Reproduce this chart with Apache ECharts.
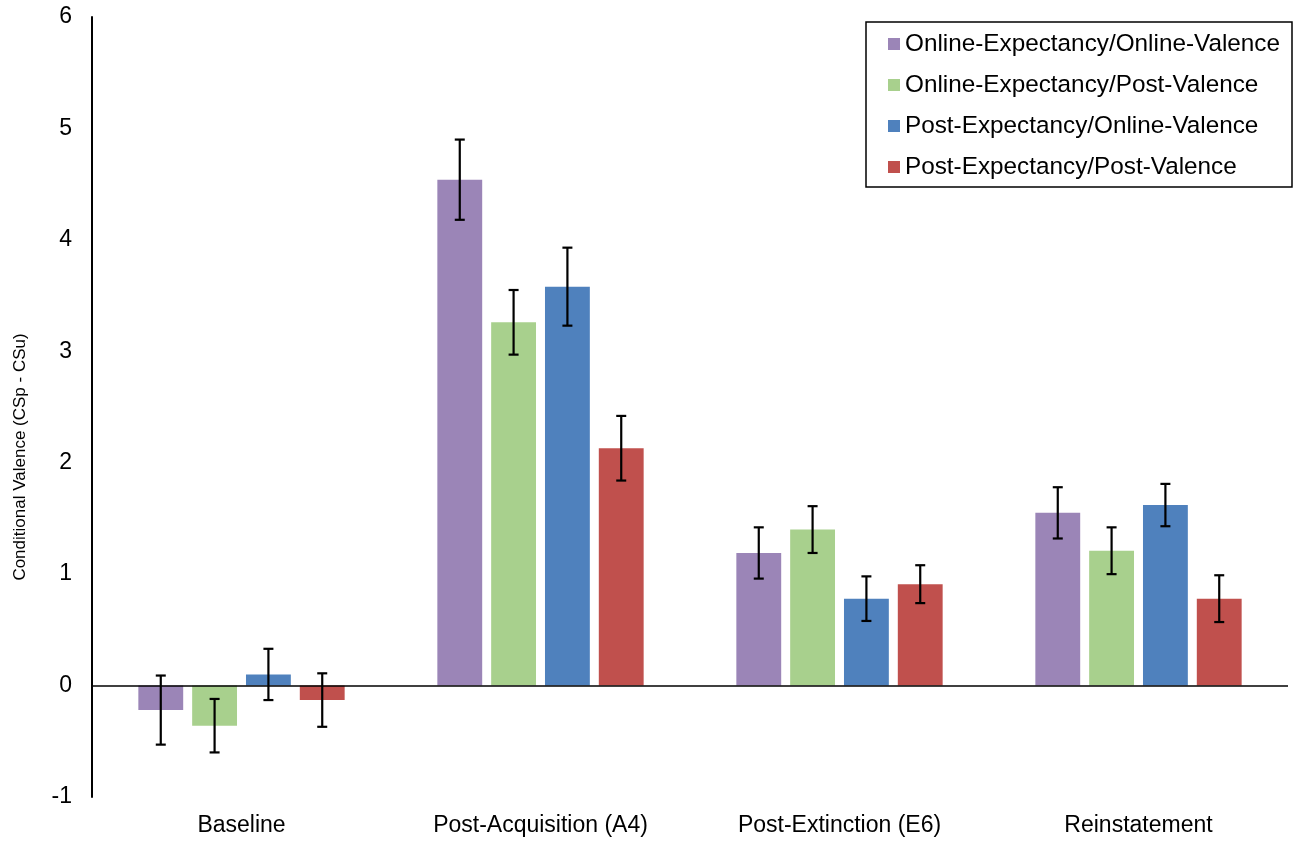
<!DOCTYPE html>
<html>
<head>
<meta charset="utf-8">
<script src="https://cdn.jsdelivr.net/npm/echarts@6/dist/echarts.min.js"></script>
<style>html,body{margin:0;padding:0;background:#fff;}#chart{width:1297px;height:845px;}</style>
</head>
<body>
<div id="chart"></div>
<script>
const categories = ['Baseline', 'Post-Acquisition (A4)', 'Post-Extinction (E6)', 'Reinstatement'];
const seriesNames = ['Online-Expectancy/Online-Valence', 'Online-Expectancy/Post-Valence', 'Post-Expectancy/Online-Valence', 'Post-Expectancy/Post-Valence'];
const oeovMean = [-0.22, 4.54, 1.19, 1.55];
const oepvMean = [-0.36, 3.26, 1.40, 1.21];
const peovMean = [0.10, 3.58, 0.78, 1.62];
const pepvMean = [-0.13, 2.13, 0.91, 0.78];
const oeovErr = [0.31, 0.36, 0.23, 0.23];
const oepvErr = [0.24, 0.29, 0.21, 0.21];
const peovErr = [0.23, 0.35, 0.20, 0.19];
const pepvErr = [0.24, 0.29, 0.17, 0.21];
const yTicks = ['-1', '0', '1', '2', '3', '4', '5', '6'];
const yTitle = 'Conditional Valence (CSp - CSu)';

const means = [oeovMean, oepvMean, peovMean, pepvMean];
const errs = [oeovErr, oepvErr, peovErr, pepvErr];
const colors = ['#9B85B7', '#A8D08D', '#4F81BD', '#C0504D'];
const FONT = "'Liberation Sans', Arial, sans-serif";
const BAR_FRAC = 0.15, GAP_FRAC = 0.2;

const chart = echarts.init(document.getElementById('chart'));
const series = [];
means.forEach((m, i) => {
  const s = {
    name: seriesNames[i], type: 'bar', data: m,
    barWidth: (BAR_FRAC * 100) + '%', barGap: (GAP_FRAC * 100) + '%',
    itemStyle: { color: colors[i] }, z: 2
  };
  if (i === 0) {
    s.markLine = {
      silent: true, symbol: 'none', label: { show: false },
      lineStyle: { color: '#000', width: 1.5, type: 'solid' },
      data: [{ yAxis: 0 }], z: 5
    };
  }
  series.push(s);
});
means.forEach((m, i) => {
  series.push({
    name: 'err' + i, type: 'custom', z: 10,
    data: m.map((v, k) => [k, v - errs[i][k], v + errs[i][k]]),
    encode: { x: 0, y: [1, 2] },
    renderItem: function (params, api) {
      const band = api.size([1, 0])[0];
      const bw = band * BAR_FRAC;
      const step = bw * (1 + GAP_FRAC);
      const off = (i - 1.5) * step;
      const lo = api.coord([api.value(0), api.value(1)]);
      const hi = api.coord([api.value(0), api.value(2)]);
      const x = lo[0] + off;
      const cap = 5;
      const st = { stroke: '#000', lineWidth: 2.2 };
      return { type: 'group', children: [
        { type: 'line', shape: { x1: x, y1: lo[1], x2: x, y2: hi[1] }, style: st },
        { type: 'line', shape: { x1: x - cap, y1: lo[1], x2: x + cap, y2: lo[1] }, style: st },
        { type: 'line', shape: { x1: x - cap, y1: hi[1], x2: x + cap, y2: hi[1] }, style: st }
      ] };
    }
  });
});

chart.setOption({
  animation: false,
  backgroundColor: '#fff',
  grid: { left: 92, right: 9, top: 17, bottom: 48 },
  graphic: [{
    type: 'text', x: 20, y: 457, rotation: Math.PI / 2,
    style: { text: yTitle, font: '17px ' + FONT, fill: '#000', align: 'center', verticalAlign: 'middle' }
  }],
  legend: {
    data: seriesNames, orient: 'vertical', left: 866, top: 22,
    itemWidth: 12, itemHeight: 12, itemGap: 17, icon: 'rect',
    borderColor: '#000', borderWidth: 1.5,
    padding: [10, 12, 8, 22],
    textStyle: { fontFamily: FONT, fontSize: 24.3, color: '#000' }
  },
  xAxis: {
    type: 'category', data: categories,
    axisLine: { show: false, onZero: false },
    axisTick: { show: false },
    axisLabel: { fontFamily: FONT, fontSize: 23, color: '#000', margin: 17 }
  },
  yAxis: {
    type: 'value', min: -1, max: 6, interval: 1,
    axisLine: { show: true, lineStyle: { color: '#000', width: 2 } },
    axisTick: { show: false },
    splitLine: { show: false },
    axisLabel: { fontFamily: FONT, fontSize: 23, color: '#000', margin: 20,
      formatter: function (v) { const s = String(v); return yTicks.indexOf(s) >= 0 ? s : ''; } }
  },
  series: series
});
</script>
</body>
</html>
